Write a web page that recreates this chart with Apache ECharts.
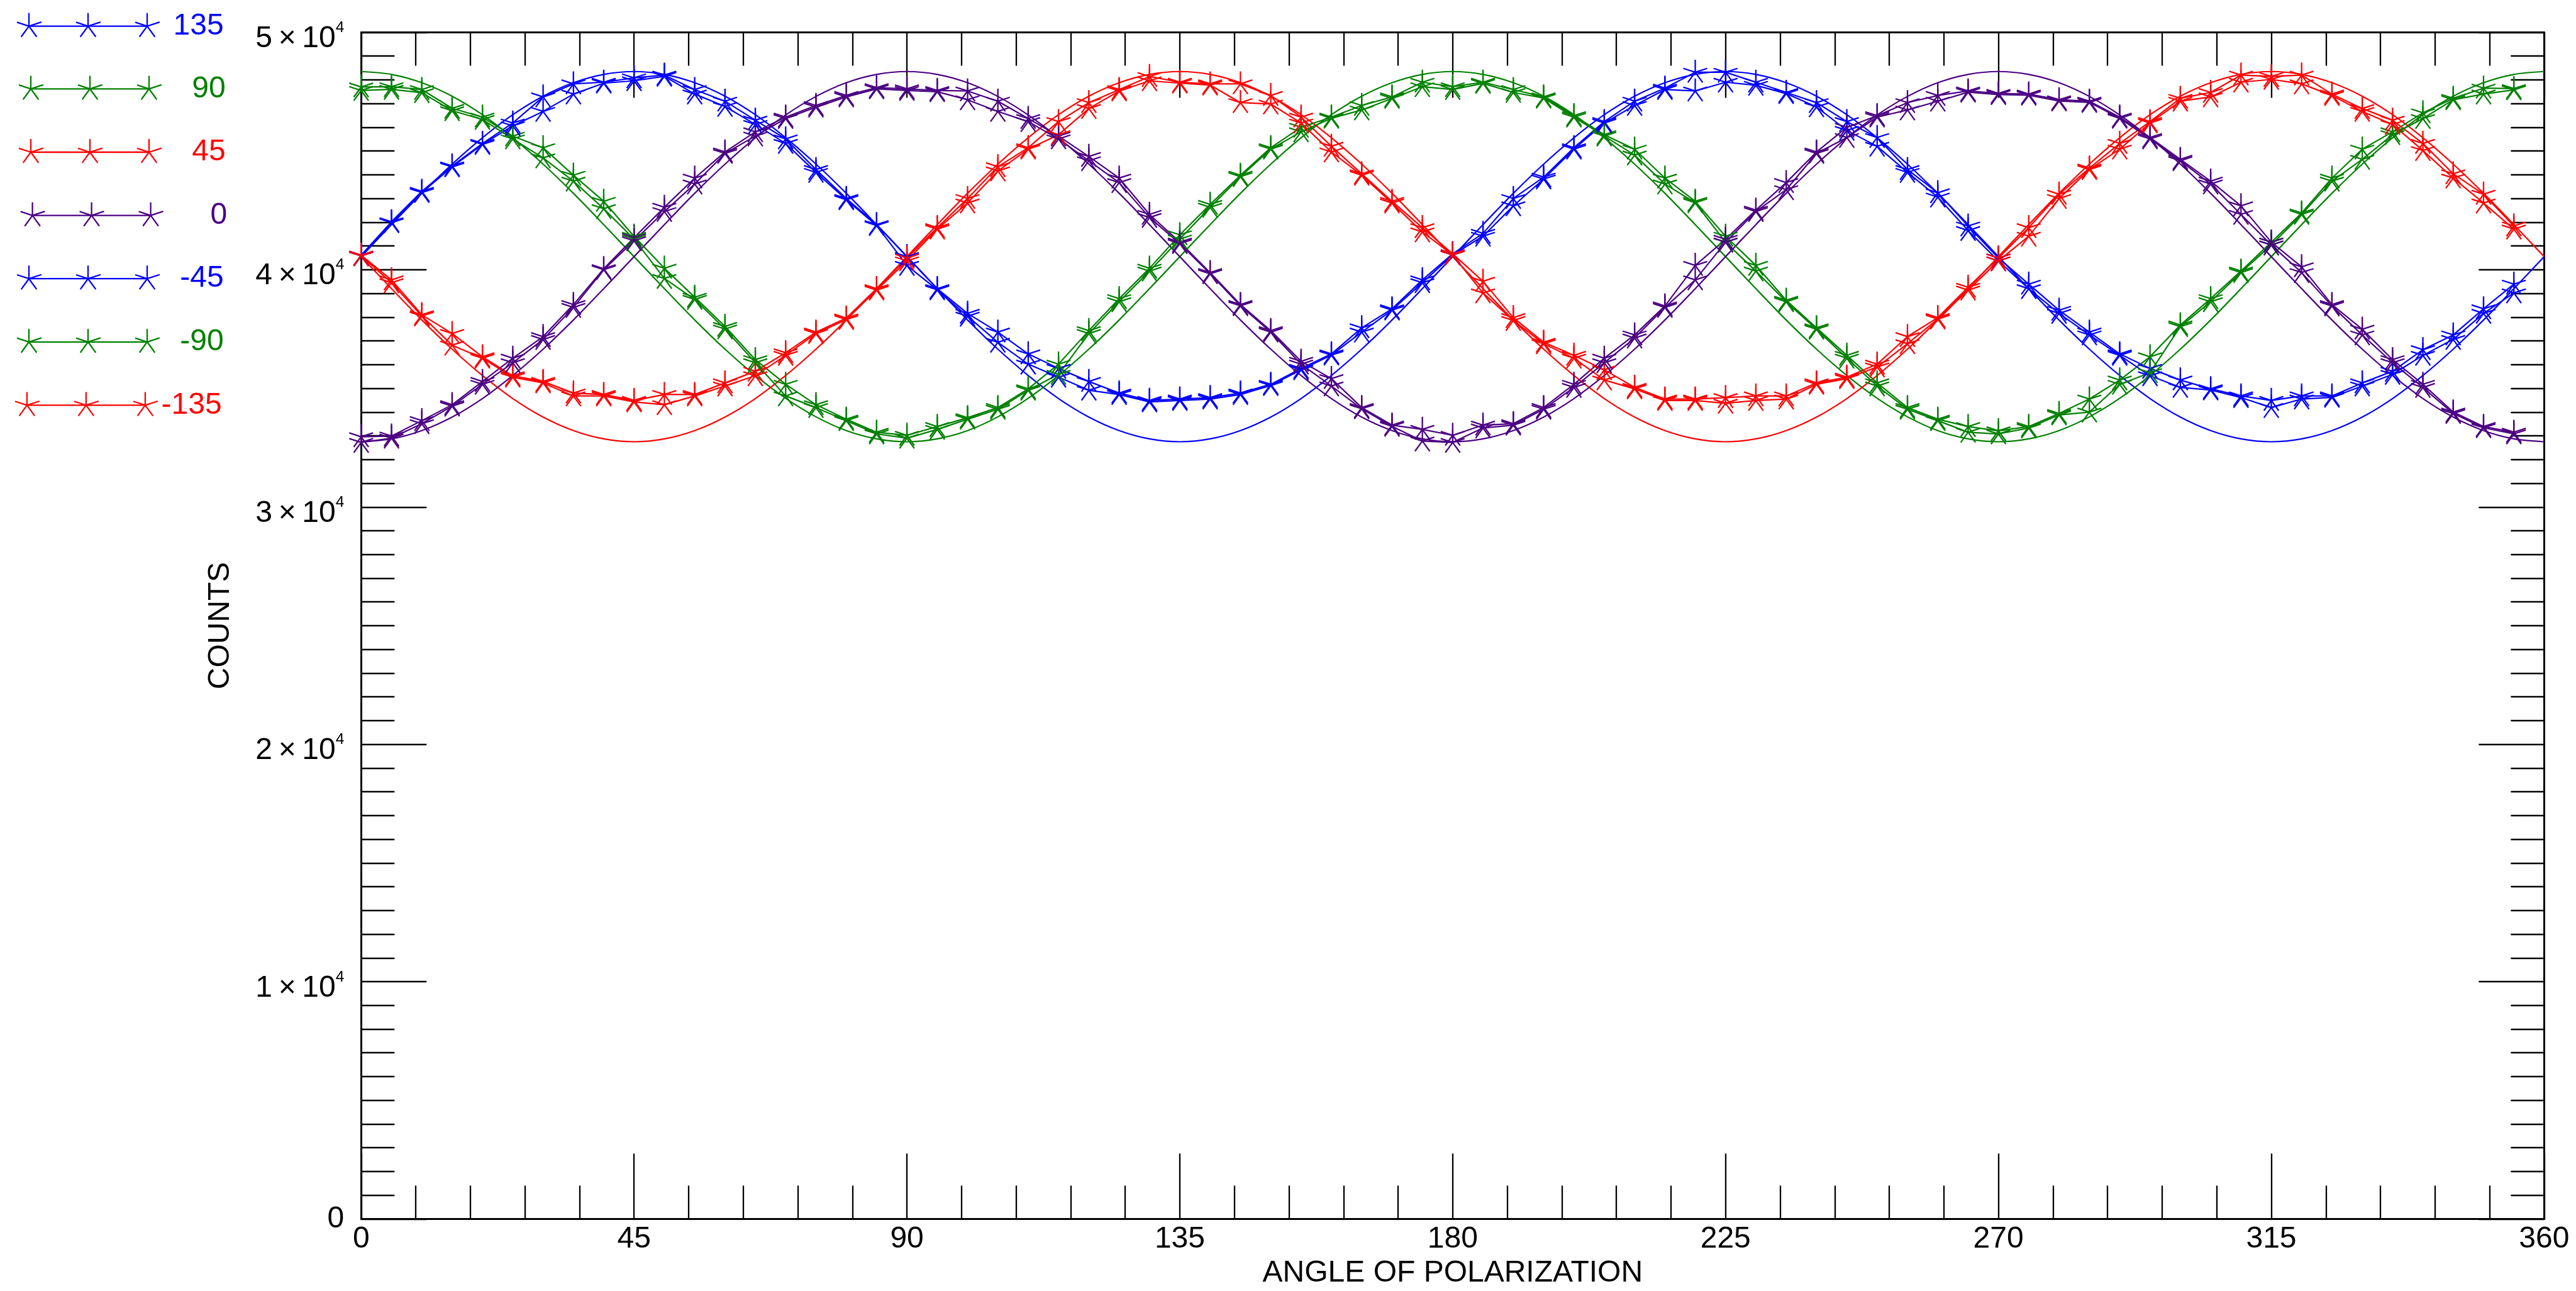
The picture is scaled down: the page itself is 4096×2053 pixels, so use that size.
<!DOCTYPE html>
<html>
<head>
<meta charset="utf-8">
<title>Counts vs angle of polarization</title>
<script src="https://cdn.jsdelivr.net/npm/echarts@6.0.0/dist/echarts.min.js"></script>
<style>
  html, body { margin: 0; padding: 0; background: #ffffff; }
  #chart { width: 4096px; height: 2053px; }
</style>
</head>
<body>
<div id="chart"></div>
<script>
// Polarizer angle of each measured point, degrees
const ANGLE = [0,5,10,15,20,25,30,35,40,45,50,55,60,65,70,75,80,85,90,95,100,105,110,115,
  120,125,130,135,140,145,150,155,160,165,170,175,180,185,190,195,200,205,210,215,220,225,230,235,
  240,245,250,255,260,265,270,275,280,285,290,295,300,305,310,315,320,325,330,335,340,345,350,355];

// Angles at which the fitted curves are tabulated, degrees
const FIT_ANGLE = [0,5,10,15,20,25,30,35,40,45,50,55,60,65,70,75,80,85,90,95,100,105,110,115,
  120,125,130,135,140,145,150,155,160,165,170,175,180,185,190,195,200,205,210,215,220,225,230,235,
  240,245,250,255,260,265,270,275,280,285,290,295,300,305,310,315,320,325,330,335,340,345,350,355,360];

// Measured counts for each analyser setting
const counts135 = [
  40610,42020,43300,44370,45320,46180,47280,47830,47900,48080,48200,47590,
  47100,46300,45510,44220,43000,41900,40550,39200,38160,37370,36450,35840,
  35290,34800,34490,34550,34610,34800,35170,35840,36450,37550,38350,39570,
  40670,41530,43000,43900,45140,46240,47100,47650,48320,48320,47900,47470,
  47040,46240,45570,44220,43240,41840,40490,39390,38290,37370,36450,35840,
  35350,34980,34680,34490,34680,34680,35230,35720,36630,37250,38350,39390];
const counts90 = [
  47700,47710,47590,46800,46430,45630,45140,43980,42880,41410,40060,38840,
  37610,36210,35170,34310,33700,33150,33020,33390,33760,34190,34980,36020,
  37430,38780,40060,41470,42750,43980,45140,46000,46430,46920,47280,47900,
  47710,47900,47590,47280,46490,45690,45080,43860,42880,41410,40180,38710,
  37550,36390,35230,34190,33700,33390,33210,33390,33940,34550,35350,36330,
  37670,38780,39940,41160,42390,43860,45080,45810,46610,47220,47650,47630];
const counts45 = [
  40610,39570,38100,37310,36330,35530,35290,34800,34740,34490,34740,34740,
  35230,35720,36500,37370,37960,39200,40490,41770,43000,44340,45140,46240,
  47040,47590,48140,47900,47830,47830,47340,46430,45200,44040,42880,41770,
  40670,39510,37980,36940,36390,35780,35040,34550,34550,34610,34680,34680,
  35230,35470,36020,37180,37980,39260,40490,41770,43180,44280,45320,46240,
  47220,47470,48200,48140,48200,47400,46790,46300,45320,44040,43180,41840];
const counts0 = [
  32960,32990,33640,34310,35290,36270,37180,38530,40040,41350,42630,43860,
  44960,45810,46430,46920,47340,47670,47620,47550,47530,47100,46370,45630,
  44770,43860,42330,41160,39880,38530,37430,36140,35410,34190,33450,33270,
  33020,33450,33510,34190,35170,36270,37250,38470,40180,41280,42510,43670,
  44960,46000,46490,47040,47340,47530,47430,47400,47160,47100,46430,45570,
  44650,43730,42690,41160,40120,38530,37490,36210,35170,34000,33390,33150];
const countsM45 = [
  40580,41980,43250,44330,45280,46060,46670,47400,47860,47960,48150,47400,
  46880,46120,45320,44100,42950,41860,40180,39150,38040,36940,36020,35470,
  34920,34740,34430,34490,34550,34740,35120,35780,36400,37370,38300,39450,
  40620,41410,42690,43820,45080,46180,46920,47590,47530,47900,47770,47420,
  46860,45870,45200,44100,43060,41650,40370,39200,38160,37250,36390,35530,
  35040,34930,34610,34190,34550,34620,35100,35590,36390,37060,38160,39020];
const countsM90 = [
  47550,47600,47460,46700,46330,45510,44710,43730,42570,41290,39630,38750,
  37500,36080,34680,34190,33640,33080,32900,33270,33700,34120,34920,35590,
  37310,38650,39940,41290,42630,43920,45080,45810,46380,46730,47220,47710,
  47590,47850,47470,47230,46430,45630,44830,43610,42820,41160,39940,38650,
  37490,36270,35100,34120,33640,33150,33080,33330,33880,34000,35170,35660,
  37600,38650,39880,41040,42330,43730,44650,45690,46370,47160,47400,47580];
const countsM135 = [
  40580,39450,38050,36820,36270,35470,35230,34680,34680,34430,34310,34680,
  35100,35530,36390,37310,37900,39140,40370,41710,42810,44160,45080,45690,
  46790,47530,47960,47860,47780,47040,46980,46180,44960,43980,42810,41590,
  40620,39020,37860,36880,36270,35350,34980,34490,34490,34370,34490,34550,
  35170,35410,35900,36880,37920,39140,40370,41410,43000,44220,45080,46180,
  47100,47280,47900,48020,47830,47340,46670,46120,45020,43860,42810,41710];
const countsM180 = [
  32720,32900,33510,34250,35170,36080,37060,38410,40000,41220,42450,43610,
  44900,45630,46370,46850,47280,47620,47550,47500,47160,46670,46240,45510,
  44590,43670,42200,41100,39830,38480,37370,36020,35100,34140,33400,32780,
  32720,33330,33450,34120,35040,36080,37120,38410,39570,41160,42450,43370,
  44900,45570,46430,46730,47100,47480,47380,47350,47110,47050,46380,45510,
  44590,43610,42330,41040,39880,38470,37250,36080,35040,33940,33340,33080];

// Fitted curves, tabulated on FIT_ANGLE
const fitBlue = [
  40550,41900,43220,44450,45560,46530,47310,47880,48230,48350,
  48230,47880,47310,46530,45560,44450,43220,41900,40550,
  39200,37880,36650,35540,34570,33790,33220,32870,32750,
  32870,33220,33790,34570,35540,36650,37880,39200,40550,
  41900,43220,44450,45560,46530,47310,47880,48230,48350,
  48230,47880,47310,46530,45560,44450,43220,41900,40550,
  39200,37880,36650,35540,34570,33790,33220,32870,32750,
  32870,33220,33790,34570,35540,36650,37880,39200,40550];
const fitGreen = [
  48350,48230,47880,47310,46530,45560,44450,43220,41900,40550,
  39200,37880,36650,35540,34580,33800,33220,32870,32750,
  32870,33220,33800,34580,35540,36650,37880,39200,40550,
  41900,43220,44450,45560,46530,47310,47880,48230,48350,
  48230,47880,47310,46530,45560,44450,43220,41900,40550,
  39200,37880,36650,35540,34580,33800,33220,32870,32750,
  32870,33220,33800,34580,35540,36650,37880,39200,40550,
  41900,43220,44450,45560,46530,47310,47880,48230,48350];
const fitRed = [
  40550,39200,37880,36650,35540,34570,33790,33220,32870,32750,
  32870,33220,33790,34570,35540,36650,37880,39200,40550,
  41900,43220,44450,45560,46530,47310,47880,48230,48350,
  48230,47880,47310,46530,45560,44450,43220,41900,40550,
  39200,37880,36650,35540,34570,33790,33220,32870,32750,
  32870,33220,33790,34570,35540,36650,37880,39200,40550,
  41900,43220,44450,45560,46530,47310,47880,48230,48350,
  48230,47880,47310,46530,45560,44450,43220,41900,40550];
const fitPurple = [
  32750,32870,33220,33790,34570,35540,36650,37880,39200,40550,
  41900,43220,44450,45560,46520,47300,47880,48230,48350,
  48230,47880,47300,46520,45560,44450,43220,41900,40550,
  39200,37880,36650,35540,34570,33790,33220,32870,32750,
  32870,33220,33790,34570,35540,36650,37880,39200,40550,
  41900,43220,44450,45560,46520,47300,47880,48230,48350,
  48230,47880,47300,46520,45560,44450,43220,41900,40550,
  39200,37880,36650,35540,34570,33790,33220,32870,32750];

// Legend entries, top to bottom
const LEGEND_LABELS = ['135', '90', '45', '0', '-45', '-90', '-135'];

const BLUE = '#0000ff', GREEN = '#008000', RED = '#ff0000', PURPLE = '#4b0082';
const FONT = '"Liberation Sans", Arial, Helvetica, sans-serif';
const INK = '#000000';

// Five-armed asterisk used as the point marker (padded to a square box)
const STAR_ARMS = [[0, -20], [19.02, -6.18], [11.76, 16.18], [-11.76, 16.18], [-19.02, -6.18]];
const STAR_PATH = 'path://' + STAR_ARMS.map(a => 'M0 0L' + a[0] + ' ' + a[1]).join('') +
  'M-20.5 -20.5M20.5 20.5';

const pairs = (xs, ys) => xs.map((x, i) => [x, ys[i]]);

function measured(name, color, values) {
  return {
    name: name, type: 'line', data: pairs(ANGLE, values),
    symbol: STAR_PATH, symbolSize: 41, symbolKeepAspect: true,
    lineStyle: { color: color, width: 2.2 },
    itemStyle: { color: color, borderColor: color, borderWidth: 2.3 },
    clip: false, silent: true, z: 3, emphasis: { disabled: true }
  };
}
function fitted(color, values) {
  return {
    type: 'line', data: pairs(FIT_ANGLE, values), symbol: 'none', smooth: 0.3,
    lineStyle: { color: color, width: 2.2 },
    clip: false, silent: true, z: 2, emphasis: { disabled: true }
  };
}

const legendColors = [BLUE, GREEN, RED, PURPLE, BLUE, GREEN, RED];
const legendRowY = [41.6, 141.3, 242.0, 342.6, 443.2, 543.8, 644.4];
const legendRowX = [46.0, 49.0, 49.0, 51.6, 46.0, 46.0, 42.9];

function legendGraphics() {
  const els = [];
  LEGEND_LABELS.forEach((label, i) => {
    const c = legendColors[i], x0 = legendRowX[i], y = legendRowY[i];
    els.push({ type: 'line', silent: true,
      shape: { x1: x0, y1: y, x2: x0 + 188, y2: y },
      style: { stroke: c, lineWidth: 2.3 } });
    [0, 94, 188].forEach(dx => {
      const pts = [];
      STAR_ARMS.forEach(a => { pts.push([0, 0], [a[0], a[1]]); });
      els.push({ type: 'polyline', silent: true, x: x0 + dx, y: y,
        shape: { points: pts },
        style: { stroke: c, lineWidth: 2.3, fill: null, lineJoin: 'round' } });
    });
    els.push({ type: 'text', silent: true, x: x0 + 309.7, y: y,
      style: { text: label, fill: c, fontSize: 48, fontFamily: FONT,
        align: 'right', verticalAlign: 'middle', textAlign: 'right', textVerticalAlign: 'middle' } });
  });
  return els;
}

const tickCommon = {
  axisLine: { show: true, onZero: false, lineStyle: { color: INK, width: 3 } },
  axisTick: { show: true, inside: true, length: 104, lineStyle: { color: INK, width: 2.3 } },
  splitLine: { show: false },
  minorSplitLine: { show: false }
};

const xBase = Object.assign({ type: 'value', min: 0, max: 360, interval: 45,
  minorTick: { show: true, splitNumber: 5, length: 53, lineStyle: { color: INK, width: 2.3 } } }, tickCommon);
const yBase = Object.assign({ type: 'value', min: 0, max: 50000, interval: 10000,
  minorTick: { show: true, splitNumber: 10, length: 53, lineStyle: { color: INK, width: 2.3 } } }, tickCommon);

const chart = echarts.init(document.getElementById('chart'), null, { renderer: 'canvas' });
chart.setOption({
  animation: false,
  backgroundColor: '#ffffff',
  textStyle: { fontFamily: FONT },
  grid: { left: 574.3, top: 51.5, width: 3471.1, height: 1886.9, containLabel: false, outerBoundsMode: 'none' },
  xAxis: [
    Object.assign({}, xBase, {
      position: 'bottom',
      axisLabel: { show: true, margin: 8.4, color: INK, fontSize: 48, fontFamily: FONT },
      name: 'ANGLE OF POLARIZATION', nameLocation: 'middle', nameGap: 62.3, nameMoveOverlap: false,
      nameTextStyle: { color: INK, fontSize: 48, fontFamily: FONT }
    }),
    Object.assign({}, xBase, { position: 'top', axisLabel: { show: false } })
  ],
  yAxis: [
    Object.assign({}, yBase, {
      position: 'left',
      axisLabel: {
        show: true, margin: 27, color: INK, padding: [8.7, 0, 0, 0],
        formatter: v => v === 0 ? '{z|0}' : '{m|' + (v / 10000) + '\u2009\u00d7\u200910}{s|4}',
        rich: {
          m: { fontSize: 48, lineHeight: 48, padding: [11.9, 0, 0, 0], fontFamily: FONT, color: INK },
          s: { fontSize: 24.5, lineHeight: 25, verticalAlign: 'top', fontFamily: FONT, color: INK },
          z: { fontSize: 48, lineHeight: 48, padding: [0, 0, 8.7, 0], fontFamily: FONT, color: INK }
        }
      },
      name: 'COUNTS', nameLocation: 'middle', nameGap: 200, nameMoveOverlap: false,
      nameTextStyle: { color: INK, fontSize: 48, fontFamily: FONT }
    }),
    Object.assign({}, yBase, { position: 'right', axisLabel: { show: false } })
  ],
  graphic: { elements: legendGraphics() },
  series: [
    measured('135', BLUE, counts135),
    measured('90', GREEN, counts90),
    measured('45', RED, counts45),
    measured('0', PURPLE, counts0),
    measured('-45', BLUE, countsM45),
    measured('-90', GREEN, countsM90),
    measured('-135', RED, countsM135),
    measured('-180', PURPLE, countsM180),
    fitted(BLUE, fitBlue),
    fitted(GREEN, fitGreen),
    fitted(RED, fitRed),
    fitted(PURPLE, fitPurple)
  ]
});
</script>
</body>
</html>
